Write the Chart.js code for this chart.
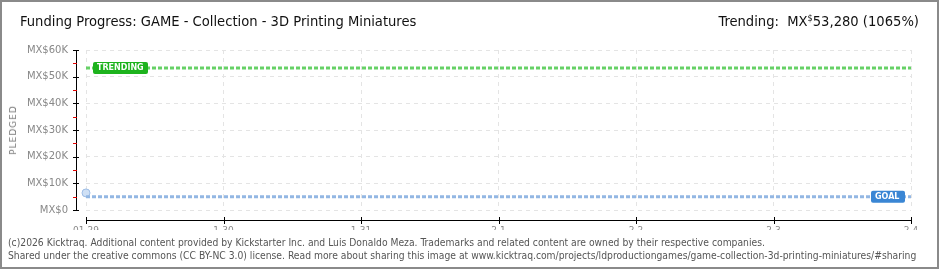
<!DOCTYPE html>
<html>
<head>
<meta charset="utf-8">
<script src="https://cdn.jsdelivr.net/npm/chart.js@4.4.1/dist/chart.umd.min.js"></script>
<style>
  html, body { margin: 0; padding: 0; background: #fff; }
  #wrap { position: relative; width: 940px; height: 270px; overflow: hidden; }
  #frame { position: absolute; left: 0; top: 0; width: 935px; height: 265px; border: 2px solid #8a8a8a; pointer-events: none; }
  #chart { position: absolute; left: 0; top: 0; }
  .title { position: absolute; left: 20px; top: 12px; font: 14.6px "Liberation Sans Narrow", "DejaVu Sans Condensed", sans-serif; color: #111; white-space: nowrap; }
  .trend { position: absolute; right: 21px; top: 12px; font: 14.6px "Liberation Sans Narrow", "DejaVu Sans Condensed", sans-serif; color: #111; white-space: nowrap; }
  .trend sup { font-size: 9px; vertical-align: 5px; line-height: 0; }
  .foot { position: absolute; left: 8px; font: 10.26px "Liberation Sans Narrow", "DejaVu Sans Condensed", sans-serif; color: #555; white-space: nowrap; }
  .ylab { position: absolute; left: 13px; top: 130px; transform: translate(-50%, -50%) rotate(-90deg); font: 9px "DejaVu Sans", sans-serif; letter-spacing: 1px; color: #777; }
</style>
</head>
<body>
<div id="wrap">
  <canvas id="chart" width="940" height="270"></canvas>
  <div class="title">Funding Progress: GAME - Collection - 3D Printing Miniatures</div>
  <div class="trend">Trending:&nbsp; MX<sup>$</sup>53,280 (1065%)</div>
  <div class="ylab">PLEDGED</div>
  <div class="foot" style="top:236px">(c)2026 Kicktraq. Additional content provided by Kickstarter Inc. and Luis Donaldo Meza. Trademarks and related content are owned by their respective companies.</div>
  <div class="foot" style="top:249px">Shared under the creative commons (CC BY-NC 3.0) license. Read more about sharing this image at www.kicktraq.com/projects/ldproductiongames/game-collection-3d-printing-miniatures/#sharing</div>
  <div id="frame"></div>
</div>
<script>
// data
const days = ['01-29', '1-30', '1-31', '2-1', '2-2', '2-3', '2-4'];
const pledged = [6400];
const trending = [53280, 53280, 53280, 53280, 53280, 53280, 53280];
const goal = [5000, 5000, 5000, 5000, 5000, 5000, 5000];
const yTicks = [0, 10000, 20000, 30000, 40000, 50000, 60000];

const axisFont = { family: 'DejaVu Sans', size: 9 };

// axis lines sit a bit away from the plot area, like the original
const axesPlugin = {
  id: 'axes',
  afterDraw(chart) {
    const ctx = chart.ctx;
    const a = chart.chartArea;
    const xs = chart.scales.x, ys = chart.scales.y;
    const ax = a.left - 10, ay = a.bottom + 10;
    ctx.save();
    ctx.strokeStyle = '#000';
    ctx.lineWidth = 1;
    ctx.beginPath();
    ctx.moveTo(ax + 0.5, a.top);
    ctx.lineTo(ax + 0.5, a.bottom + 1);
    ctx.moveTo(a.left, ay + 0.5);
    ctx.lineTo(a.right + 1, ay + 0.5);
    yTicks.forEach(v => {
      const py = Math.round(ys.getPixelForValue(v)) + 0.5;
      ctx.moveTo(ax - 3, py);
      ctx.lineTo(ax + 3, py);
    });
    days.forEach((d, i) => {
      const px = Math.round(xs.getPixelForValue(i)) + 0.5;
      ctx.moveTo(px, ay - 3);
      ctx.lineTo(px, ay + 4);
    });
    ctx.stroke();
    ctx.strokeStyle = '#e00000';
    ctx.beginPath();
    yTicks.slice(0, -1).forEach(v => {
      const py = Math.round(ys.getPixelForValue(v + 5000)) + 0.5;
      ctx.moveTo(ax - 3, py);
      ctx.lineTo(ax + 1, py);
    });
    ctx.stroke();
    ctx.restore();
  },
  afterDatasetsDraw(chart) {
    const ctx = chart.ctx;
    const xs = chart.scales.x, ys = chart.scales.y;
    function tag(text, x, y, w, fill) {
      ctx.fillStyle = fill;
      ctx.beginPath();
      ctx.roundRect(x, y - 6, w, 12, 2);
      ctx.fill();
      ctx.fillStyle = '#fff';
      ctx.font = 'bold 8px "DejaVu Sans"';
      ctx.textBaseline = 'middle';
      ctx.textAlign = 'left';
      ctx.fillText(text, x + 4, y + 0.5);
    }
    ctx.save();
    tag('TRENDING', xs.getPixelForValue(0) + 7, ys.getPixelForValue(trending[0]), 55, '#1db31d');
    tag('GOAL', xs.getPixelForValue(days.length - 1) - 40, ys.getPixelForValue(goal[0]), 34, '#3a86d4');
    ctx.restore();
  }
};

new Chart(document.getElementById('chart'), {
  type: 'line',
  data: {
    labels: days,
    datasets: [
      {
        label: 'Trending',
        data: trending,
        borderColor: '#66d166',
        borderWidth: 3,
        borderDash: [4, 2],
        pointRadius: 0,
        fill: false
      },
      {
        label: 'Goal',
        data: goal,
        borderColor: '#93b7e3',
        borderWidth: 3,
        borderDash: [4, 2],
        pointRadius: 0,
        fill: false
      },
      {
        label: 'Pledged',
        data: pledged,
        borderColor: '#9dbde6',
        backgroundColor: '#cfe0f5',
        borderWidth: 1,
        pointRadius: 4,
        showLine: false
      }
    ]
  },
  options: {
    responsive: false,
    animation: false,
    layout: { padding: { left: 0, right: 29, top: 50, bottom: 40 } },
    plugins: { legend: { display: false }, tooltip: { enabled: false } },
    scales: {
      x: {
        grid: { color: '#e4e4e4', drawTicks: false },
        border: { display: false, dash: [4, 4] },
        ticks: { font: axisFont, color: '#888', padding: 15, maxRotation: 0, autoSkip: false },
        afterFit(s) { s.height = 20; }
      },
      y: {
        min: 0,
        max: 60000,
        grid: { color: '#e4e4e4', drawTicks: false },
        border: { display: false, dash: [4, 4] },
        afterBuildTicks(s) { s.ticks = yTicks.map(v => ({ value: v })); },
        ticks: {
          font: { family: 'DejaVu Sans', size: 10 },
          color: '#888',
          padding: 18,
          callback: v => 'MX$' + (v === 0 ? '0' : (v / 1000) + 'K')
        },
        afterFit(s) { s.width = 86; }
      }
    }
  },
  plugins: [axesPlugin]
});
</script>
</body>
</html>
